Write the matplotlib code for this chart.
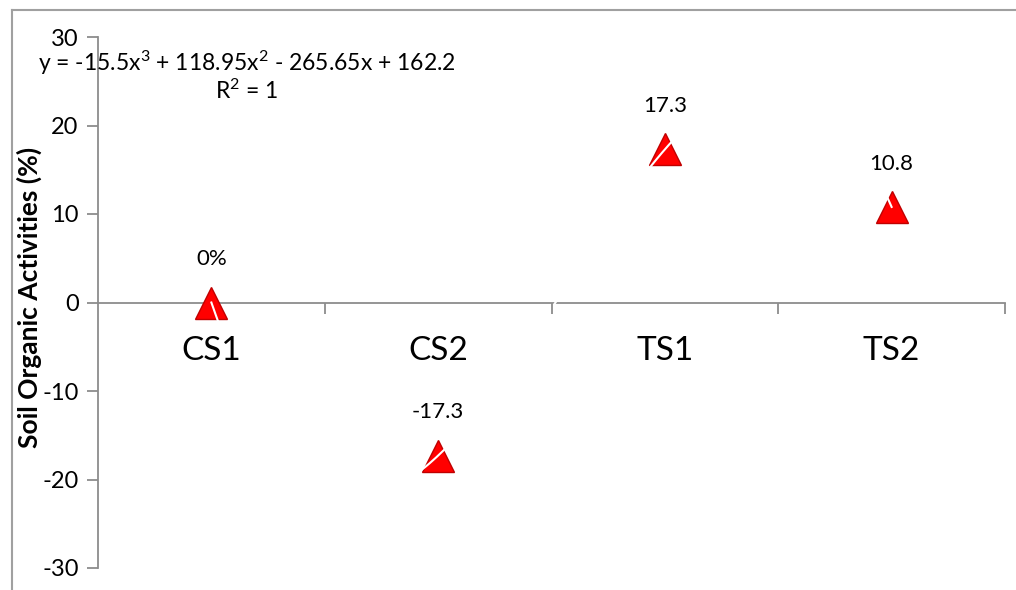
import numpy as np
import matplotlib
matplotlib.use("Agg")
import matplotlib.pyplot as plt
from matplotlib.lines import Line2D

# === data ===
categories = ["CS1", "CS2", "TS1", "TS2"]
values = [0.0, -17.3, 17.3, 10.8]
point_labels = ["0%", "-17.3", "17.3", "10.8"]
y_ticks = [-30, -20, -10, 0, 10, 20, 30]

plt.rcParams['font.family'] = ['Lato', 'DejaVu Sans']
plt.rcParams['axes.unicode_minus'] = False
plt.rcParams['mathtext.fontset'] = 'custom'
plt.rcParams['mathtext.rm'] = 'Lato'
plt.rcParams['mathtext.it'] = 'Lato'

fig = plt.figure(figsize=(10.16, 5.90), dpi=100)
W, H = 1016, 590
ax = fig.add_axes([98 / W, 1 - 568 / H, (1005 - 98) / W, (568 - 37) / H])

grey = '#8c8c8c'
x = np.arange(1, len(categories) + 1)

# chart border (cut off at right/bottom)
fig.add_artist(Line2D([12 / W, 12 / W], [0, 1 - 10 / H], color='#a0a0a0', lw=1.5))
fig.add_artist(Line2D([12 / W, 1], [1 - 10 / H, 1 - 10 / H], color='#a0a0a0', lw=1.5))

# markers
ax.plot(x, values, linestyle='none', marker='^', markersize=23,
        markerfacecolor='#ff0000', markeredgecolor='#c00000', markeredgewidth=1, zorder=3)

# white polynomial trendline (order 3)
coef = np.polyfit(x, values, 3)
xs = np.linspace(1, 4, 300)
ax.plot(xs, np.polyval(coef, xs), color='white', lw=1.5, zorder=4)

for xi, v, lab in zip(x, values, point_labels):
    ax.annotate(lab, (xi, v), xytext=(0, 24), textcoords='offset points',
                ha='center', va='bottom', fontsize=16)

ax.set_xlim(0.5, 4.5)
ax.set_ylim(-30, 30)

for s in ['top', 'right']:
    ax.spines[s].set_visible(False)
ax.spines['left'].set_color(grey)
ax.spines['left'].set_linewidth(1.3)
ax.spines['bottom'].set_position(('data', 0))
ax.spines['bottom'].set_color(grey)
ax.spines['bottom'].set_linewidth(1.3)

ax.set_yticks(y_ticks)
ax.tick_params(axis='y', direction='out', length=8, color=grey, width=1.3,
               labelsize=17, pad=6)

ax.set_xticks(x)
ax.set_xticklabels(categories, fontsize=24)
ax.tick_params(axis='x', which='major', length=0, pad=24)
ax.set_xticks([1.5, 2.5, 3.5, 4.5], minor=True)
ax.tick_params(axis='x', which='minor', direction='out', length=8, color=grey, width=1.3)
ax.xaxis.set_zorder(5)  # category labels above the white trendline

ax.set_ylabel('Soil Organic Activities (%)', fontsize=19, fontweight='bold')
ax.yaxis.set_label_coords(-56 / (1005 - 98), 0.51)

fig.text(247 / W, 1 - 63 / H, r'y = -15.5x$^3$ + 118.95x$^2$ - 265.65x + 162.2',
         ha='center', va='center', fontsize=16.5)
fig.text(247 / W, 1 - 91 / H, r'R$^2$ = 1', ha='center', va='center', fontsize=16.5)

fig.savefig('out.png', dpi=100)
